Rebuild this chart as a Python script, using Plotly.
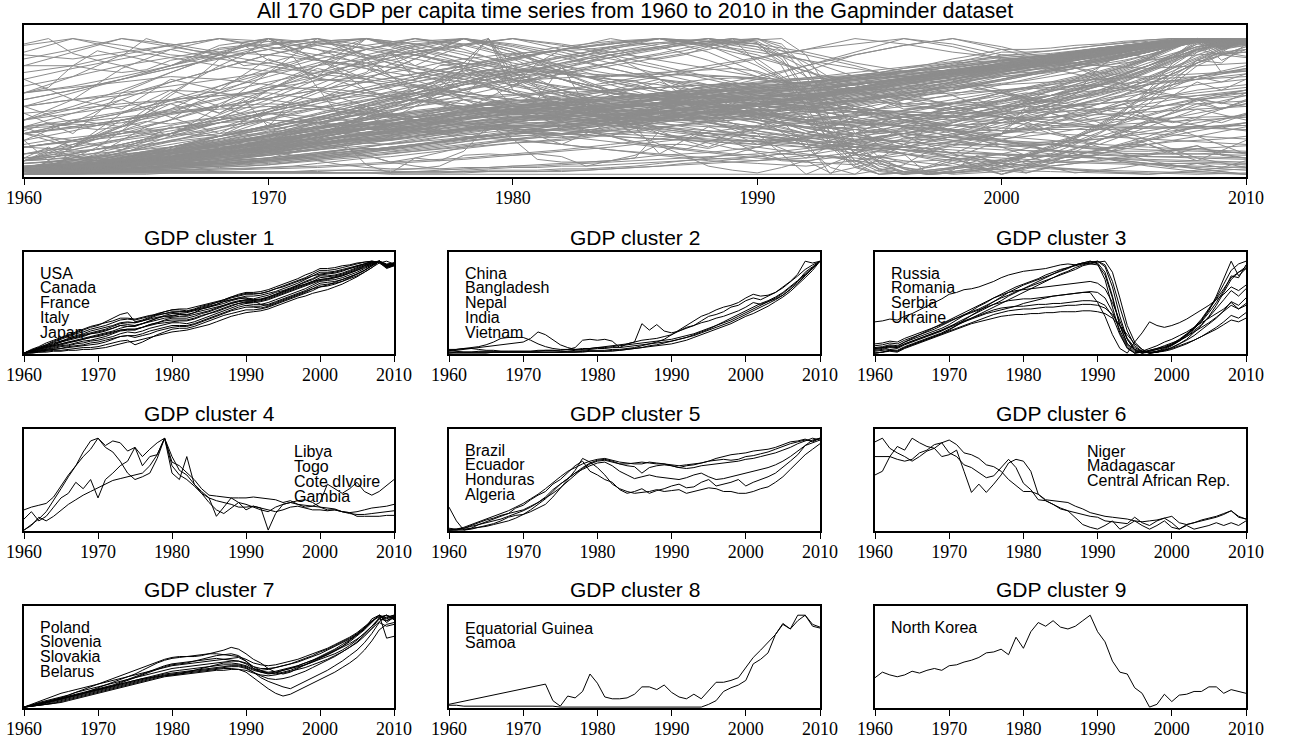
import plotly.graph_objects as go

W, H = 1290, 742

years = list(range(1960, 2011))
years_biennial = list(range(1960, 2011, 2))
tick_years = [1960, 1970, 1980, 1990, 2000, 2010]

# Normalised GDP per capita (percent of each series' range), one value per year 1960-2010
cluster1 = [
    [0,2,4,7,9,12,15,17,19,21, 22,24,27,30,29,29,32,35,38,40, 40,42,41,44,48,50,52,54,57,59, 60,59,61,63,66,68,71,74,77,80, 84,84,85,87,90,93,96,98,100,95, 97],
    [0,3,6,9,12,15,18,21,23,26, 28,30,33,36,37,36,38,40,43,45, 47,47,46,48,51,53,55,57,60,62, 64,64,65,67,70,73,76,79,82,86, 90,90,91,93,95,97,99,100,99,94, 96],
    [0,4,7,11,14,17,20,23,26,29, 31,33,35,38,38,37,39,41,42,43, 44,45,45,47,49,51,53,56,58,60, 62,62,63,65,67,70,73,76,80,84, 88,88,89,91,93,95,97,99,100,94, 97],
    [0,3,6,9,13,16,19,22,25,28, 30,34,38,42,44,34,36,39,42,45, 47,48,48,50,52,54,56,58,61,64, 66,66,67,69,72,75,78,81,85,88, 92,92,93,95,96,98,99,100,98,93, 95],
    [0,1,3,5,7,9,11,13,15,17, 18,20,22,25,26,26,28,31,33,35, 36,36,36,38,41,43,45,48,51,54, 56,56,57,59,62,65,68,71,74,77, 80,81,82,84,87,90,94,97,100,96, 98],
    [0,1,2,4,5,7,8,10,11,13, 14,16,18,21,23,22,24,27,29,31, 33,33,32,34,37,40,43,46,49,52, 54,53,53,55,58,61,64,67,70,74, 78,79,80,82,85,88,92,96,100,95, 97],
    [0,1,2,3,4,5,6,7,8,9, 10,12,15,18,19,19,21,24,26,28, 30,30,30,32,35,38,41,44,47,50, 52,51,51,53,56,59,62,65,68,72, 76,77,78,80,83,86,90,95,100,95, 97],
    [0,0,1,2,3,3,4,5,6,6, 7,9,11,13,14,9,12,16,20,23, 26,27,27,29,32,35,38,41,43,45, 47,47,48,50,53,56,59,62,65,68, 72,73,75,78,82,86,90,95,100,96, 98],
    [0,0,1,1,2,2,3,3,4,4, 5,6,8,10,12,13,15,17,19,21, 23,24,25,27,29,31,34,37,40,42, 44,45,46,48,51,54,57,60,62,65, 67,69,72,75,79,83,88,93,100,97, 98],
    [0,2,4,6,8,10,12,14,16,18, 20,22,24,27,29,30,32,35,38,41, 43,43,44,46,48,50,53,56,58,60, 60,57,53,52,55,58,61,64,67,70, 72,74,77,80,83,86,90,95,100,96, 97],
    [0,3,5,8,10,13,15,18,20,22, 24,26,29,32,33,33,35,38,41,43, 45,45,45,47,50,52,55,58,61,63, 65,65,65,67,70,72,75,78,81,84, 86,87,88,90,92,94,97,100,99,92, 95],
    [0,1,3,4,6,8,9,11,13,14, 16,18,21,24,25,25,28,31,33,36, 38,38,38,40,43,45,48,51,54,56, 58,58,58,60,63,66,69,72,75,78, 82,83,84,86,89,92,95,98,100,94, 96],
    [0,1,2,3,4,5,7,8,9,11, 12,14,16,18,19,17,19,21,24,26, 28,29,29,31,34,37,40,43,46,48, 50,50,49,51,54,57,60,63,66,70, 74,75,76,78,81,84,88,93,98,100, 97],
    [0,3,5,8,11,13,16,19,21,24, 26,28,30,33,34,33,35,37,39,40, 41,42,42,44,46,48,50,52,55,57, 58,58,59,61,64,67,70,73,75,78, 80,81,83,85,88,91,95,98,100,95, 96],
    [0,2,4,6,8,10,12,13,15,17, 19,21,23,25,26,26,28,30,32,33, 34,35,35,37,40,43,46,49,52,54, 55,55,56,58,61,64,67,70,73,76, 79,80,82,84,87,90,93,97,100,96, 98],
    [0,2,5,7,9,12,14,16,18,21, 23,25,27,30,31,30,32,34,36,38, 39,40,40,42,44,46,49,52,54,56, 57,57,58,61,64,67,70,74,78,81, 85,86,87,89,92,95,97,99,100,93, 96],
]

cluster2 = [
    [3,2,1,1,1,1,1,1,1,1, 1,1,1,1,1,1,1,1,1,2, 2,2,3,3,4,5,6,7,8,9, 10,12,14,17,20,23,26,29,32,36, 40,43,47,51,56,61,67,74,82,90, 100],
    [4,4,5,5,4,3,3,2,2,2, 2,2,3,3,3,2,2,3,4,5, 6,7,8,9,10,12,32,25,31,24, 22,24,27,30,35,40,42,45,50,52, 57,60,58,62,66,72,78,86,100,98, 100],
    [2,3,4,5,6,7,8,9,10,11, 12,16,23,20,14,9,6,4,3,4, 5,5,6,6,7,8,9,10,11,12, 13,15,17,19,22,25,28,31,34,38, 42,46,50,54,58,63,69,76,84,92, 100],
    [3,4,5,6,7,9,12,16,17,17, 17,14,10,7,5,4,4,4,5,5, 6,6,7,8,9,10,11,12,13,14, 15,17,19,21,24,27,30,34,38,42, 46,50,54,57,61,66,72,79,86,93, 100],
    [0,1,1,1,2,2,2,2,2,2, 2,2,2,3,3,3,4,6,14,15, 14,15,13,6,10,12,14,15,16,18, 20,24,28,30,33,35,38,40,43,46, 50,55,53,56,59,63,69,78,88,94, 100],
    [1,1,1,1,1,1,1,1,1,1, 1,1,1,1,1,1,2,2,2,3, 3,3,4,4,5,6,8,10,12,15, 20,25,30,35,40,43,47,50,52,55, 60,64,62,63,66,71,77,84,91,96, 100],
    [0,0,0,0,0,0,1,1,1,1, 1,1,1,1,1,1,1,1,2,2, 2,2,2,3,4,5,6,8,9,11, 13,15,17,20,23,26,30,33,36,40, 44,48,52,56,60,65,71,78,85,92, 100],
]

cluster3 = [
    [5,6,8,7,12,15,18,21,24,27, 31,36,41,46,51,55,60,64,68,72, 75,78,81,85,88,91,93,95,97,99, 100,94,72,40,15,3,0,1,2,4, 8,13,19,26,35,46,62,82,100,84, 92],
    [0,1,3,2,6,9,12,15,18,21, 25,30,36,41,46,51,56,61,66,70, 74,77,80,83,86,89,92,96,98,100, 97,80,50,22,6,0,1,3,5,7, 10,15,21,28,37,48,60,75,90,97, 100],
    [34,35,37,36,40,43,47,51,55,59, 64,66,69,70,72,75,78,82,85,87, 89,90,91,92,94,96,97,96,98,97, 96,85,60,30,10,4,2,0,1,3, 6,10,15,22,30,40,52,66,80,88, 94],
    [3,4,6,5,9,12,15,18,21,24, 28,33,37,41,45,49,53,57,62,66, 70,73,76,79,82,85,88,91,95,97, 99,100,88,60,30,12,4,0,2,5, 9,14,20,27,36,47,58,70,82,88, 92],
    [8,9,11,10,14,17,20,23,26,30, 34,38,42,45,48,52,56,60,63,67, 70,74,78,82,86,90,93,96,98,100, 98,88,62,30,10,2,0,2,4,6, 9,14,20,27,34,44,55,68,84,82, 96],
    [2,3,4,3,7,10,13,16,19,22, 26,30,34,38,42,46,50,54,58,62, 66,70,74,78,82,86,89,93,96,98, 100,96,78,50,24,8,2,0,1,3, 6,10,14,19,25,31,38,46,56,52, 60],
    [10,11,13,12,16,19,22,25,28,31, 35,38,41,44,47,50,53,55,57,58, 59,59,60,61,62,63,64,65,66,67, 66,60,45,25,8,0,2,5,8,12, 15,19,23,28,33,38,43,48,55,48, 52],
    [5,6,7,6,10,13,16,19,22,25, 29,32,35,38,41,44,47,49,50,51, 51,52,53,53,54,54,55,56,57,57, 56,52,40,20,5,0,1,3,5,8, 11,14,18,23,28,33,39,45,52,48, 54],
    [0,1,2,1,5,8,11,14,17,20, 23,26,29,32,34,36,38,40,41,42, 42,43,43,44,44,45,45,45,46,46, 45,43,38,30,20,10,4,0,1,3, 5,8,11,14,18,22,26,31,36,34, 38],
    [0,1,3,2,6,9,12,15,18,21, 24,27,30,33,36,39,42,44,46,47, 48,48,49,50,50,51,52,52,53,53, 52,49,42,30,16,6,2,0,1,2, 4,7,10,14,18,23,28,34,41,38, 44],
    [4,5,7,6,10,13,16,19,22,25, 28,31,34,37,40,43,45,47,49,51, 54,56,58,60,62,63,64,65,66,66, 55,40,20,5,0,12,22,34,30,28, 30,33,37,42,47,52,58,64,72,68, 74],
    [6,7,9,8,12,16,20,24,28,32, 36,40,44,48,52,56,60,63,66,68, 69,70,71,72,73,74,75,76,77,78, 76,70,55,35,15,4,0,2,4,6, 9,13,18,24,31,39,48,58,68,62, 70],
]

cluster4 = [
    [22,25,27,29,36,48,60,70,80,88, 100,92,97,95,86,90,80,88,95,100, 74,70,62,55,45,38,37,36,35,35, 35,36,35,34,33,30,32,28,25,26, 30,50,45,40,45,52,42,38,42,48, 55],
    [0,6,12,20,32,45,58,70,85,97, 100,90,85,75,62,55,58,62,78,100, 80,65,60,50,42,35,32,30,28,25, 25,26,24,22,20,22,25,26,24,22, 22,21,22,20,19,20,22,24,25,26, 28],
    [0,5,14,10,15,22,28,33,38,42, 46,50,54,56,58,60,62,70,82,100, 70,60,55,48,40,30,22,18,24,30, 28,25,22,20,25,28,30,28,27,26, 25,24,23,20,18,17,17,18,19,20, 21],
    [12,20,10,15,25,35,40,52,45,55, 35,55,62,70,75,90,70,80,82,100, 62,55,80,50,40,35,15,25,35,30, 22,26,24,0,18,28,30,32,33,30, 25,22,22,20,19,15,15,15,15,16, 16],
]

cluster5 = [
    [25,10,0,2,6,9,12,15,18,24, 27,33,38,42,50,55,62,70,75,64, 60,55,52,44,40,42,45,40,43,45, 48,50,46,47,52,55,48,50,52,55, 48,52,55,58,62,68,75,82,92,95, 98],
    [0,1,3,6,9,12,15,18,21,25, 29,34,39,45,52,58,64,68,72,75, 77,78,76,74,73,72,72,74,73,72, 71,70,71,72,73,75,76,77,76,77, 80,81,83,85,88,91,94,96,98,97, 100],
    [0,0,2,5,8,11,13,16,18,20, 22,26,30,36,44,50,56,62,68,73, 76,77,75,72,70,69,62,68,70,71, 70,68,70,71,73,75,78,80,82,83, 84,86,87,88,90,93,96,97,99,96, 100],
    [0,0,0,1,3,5,7,10,14,16, 17,20,24,28,36,45,55,65,78,74, 68,60,50,45,42,40,41,42,44,42, 43,44,40,42,44,46,45,42,42,40, 40,42,45,47,52,58,66,74,82,88, 94],
    [2,1,1,2,3,4,6,8,10,13, 17,22,28,34,42,50,56,62,66,70, 73,74,70,64,60,56,58,60,58,57, 56,55,57,60,62,58,55,56,58,60, 62,64,66,68,71,75,80,86,92,98, 100],
    [0,1,2,4,6,8,10,12,15,18, 21,25,30,35,40,46,53,60,67,72, 75,76,74,72,72,73,74,73,72,72, 70,68,67,68,70,71,72,73,74,75, 77,78,80,82,84,87,90,94,97,100, 98],
]

cluster6 = [
    [96,100,89,84,80,75,80,86,89,95, 98,93,84,82,78,71,69,64,55,48, 42,42,39,33,32,31,30,26,23,19, 17,15,14,13,12,10,9,10,11,13, 15,8,6,8,11,13,15,18,21,14, 12],
    [60,64,80,91,87,100,95,91,89,80, 82,87,64,41,50,41,50,60,73,77, 75,64,39,32,28,24,21,14,6,3, 1,5,10,1,5,10,5,1,5,10, 3,1,5,1,3,5,8,5,8,5, 10],
    [80,80,80,77,75,77,84,87,93,95, 84,80,71,68,62,57,59,68,77,68, 51,44,33,32,28,23,21,19,17,15, 14,10,9,8,7,14,8,5,10,13, 8,1,6,8,10,12,14,17,21,15, 12],
]

cluster7 = [
    [0,2,5,7,9,11,13,16,18,20, 22,24,26,28,30,32,34,36,38,40, 42,43,44,45,46,47,48,49,50,50, 47,42,40,41,43,45,47,50,53,56, 60,63,67,71,75,80,86,93,100,94, 97],
    [0,1,3,5,7,9,11,13,15,18, 21,24,27,30,33,36,40,44,48,51, 53,54,55,55,56,58,60,62,65,63, 58,52,48,42,38,36,38,42,46,50, 54,58,62,66,71,77,84,92,100,96, 99],
    [0,1,2,4,6,8,10,12,14,16, 18,20,22,24,26,28,30,32,34,36, 37,38,39,40,41,42,43,44,45,45, 43,38,32,28,25,22,20,24,28,32, 36,40,45,50,56,62,70,80,92,88, 90],
    [0,1,2,3,4,6,8,10,12,14, 16,18,20,22,24,26,28,30,32,34, 35,36,37,38,39,40,41,42,42,41, 38,32,26,20,15,12,14,18,22,26, 30,34,38,43,48,54,62,72,84,90, 92],
    [0,2,4,6,8,10,12,14,16,18, 20,22,24,27,30,33,36,39,42,45, 47,48,49,50,51,52,53,52,51,50, 48,44,42,42,43,45,47,49,52,55, 58,62,66,70,74,79,85,96,100,75, 77],
    [0,2,3,5,7,9,11,13,15,17, 19,21,23,25,27,29,31,33,35,37, 39,40,41,42,43,44,45,46,46,46, 44,40,38,37,38,40,42,44,46,49, 52,55,58,62,67,73,80,88,96,100, 97],
    [0,3,6,9,12,15,17,19,21,23, 25,27,29,31,33,35,37,39,41,43, 45,46,47,48,49,50,51,52,53,54, 50,42,38,36,37,40,42,45,48,51, 55,59,63,68,73,79,86,94,100,92, 98],
    [0,1,2,3,5,7,9,11,13,15, 17,19,21,23,25,27,29,31,33,35, 36,37,38,39,40,41,42,43,44,44, 42,38,34,31,30,31,33,36,39,43, 47,51,55,60,65,71,78,86,96,94, 99],
    [0,2,4,6,8,10,13,16,19,22, 25,28,31,34,37,40,43,46,49,52, 54,55,55,56,57,58,58,57,56,55, 52,48,46,45,46,48,50,52,55,58, 61,64,68,72,76,81,87,94,98,100, 95],
    [0,1,3,5,7,9,11,13,15,17, 19,21,23,25,27,29,31,32,33,34, 35,36,38,40,42,44,46,48,48,47, 45,41,39,38,39,41,43,45,48,51, 54,57,61,65,69,74,80,88,97,100, 96],
    [0,2,4,5,7,9,11,13,15,17, 19,21,23,26,29,32,35,38,41,44, 46,47,48,50,52,54,56,57,58,56, 50,44,40,37,36,38,40,43,46,49, 53,57,61,66,72,78,85,93,100,97, 100],
    [0,1,2,3,4,5,7,9,11,13, 15,17,19,21,23,25,27,29,31,33, 34,35,36,37,38,39,40,40,41,41, 40,37,35,34,35,37,39,41,43,46, 49,52,56,60,65,70,77,85,93,98, 100],
]

# None marks years without data; the line is joined across them
cluster8 = [
    [3, None, None, None, None, None, None, None, None, None, None, None, None,
     25,7,1,12,10,17,36, 26,11,9,9,10,14,22,22,19,24, 16,11,9,14,9,18,27,27,29,32, 43,54,62,70,79,91,85,100,100,90, 87],
    [2,2,1,1,1,1,1,1,1,1, 1,1,1,1,1,0,0,0,0,0, 0,0,0,0,0,0,0,0,0,0, 0,0,0,0,0,3,7,17,21,24, 29,47,52,59,79,90,85,94,100,88, 86],
]

cluster9 = [
    [32,38,35,33,35,39,37,40,42,40, 45,46,49,51,54,59,60,63,57,76, 64,82,92,88,94,87,85,88,94,100, 82,71,50,38,36,21,15,0,3,14, 6,13,14,17,17,22,22,15,19,17, 15],
]

# Remaining countries outside the nine clusters, sampled every second year 1960-2010
other_series = [
    [0,3,7,11,15,20,25,30,33,37,40,42,45,49,53,58,61,64,68,73,78,82,86,91,97,100],
    [0,2,4,7,10,14,19,25,30,34,36,35,37,41,46,52,56,61,67,73,78,83,88,94,100,98],
    [2,4,6,9,13,18,24,31,38,44,48,46,43,44,47,51,56,60,65,69,74,79,85,92,99,100],
    [0,1,3,5,7,9,12,15,18,22,26,30,35,40,46,52,58,64,70,76,82,87,92,96,100,97],
    [5,8,12,17,23,29,35,41,46,50,52,50,47,46,48,52,57,63,69,75,80,85,90,95,100,99],
    [0,4,9,14,19,25,31,37,42,46,50,53,56,60,64,68,70,72,75,79,83,88,93,97,100,96],
    [0,1,2,4,6,9,12,16,21,26,31,34,38,42,45,47,50,55,60,64,70,77,84,91,98,100],
    [8,10,13,16,20,24,29,34,40,45,49,51,52,55,58,62,64,68,72,76,81,86,91,96,100,98],
    [0,2,5,9,14,20,27,34,40,44,46,44,42,40,39,41,45,50,56,62,69,76,84,92,100,97],
    [0,1,2,3,5,7,10,13,17,21,25,29,33,38,43,48,53,59,64,70,75,81,87,93,98,100],
    [3,5,8,12,16,21,26,31,36,41,45,48,50,52,54,57,61,66,70,74,78,83,88,93,100,99],
    [0,3,6,10,15,22,30,36,42,47,50,51,51,52,54,56,59,63,67,71,76,81,87,94,100,98],
    [1,2,4,6,9,12,15,18,22,26,30,33,37,41,45,50,54,58,63,68,73,79,85,92,98,100],
    [0,2,4,7,10,14,18,23,28,34,40,42,44,46,49,53,57,62,67,72,77,82,88,94,100,97],
    [10,12,15,18,22,26,30,35,40,44,48,52,56,60,62,61,63,66,70,74,79,85,91,96,100,98],
    [0,0,1,2,3,4,5,7,9,11,14,17,20,24,28,33,39,45,52,59,66,74,82,90,98,100],
    [0,5,11,17,23,29,34,38,42,46,50,53,56,59,62,65,68,71,74,77,80,84,89,94,100,99],
    [4,6,9,13,18,24,31,38,44,48,50,49,47,47,49,52,55,59,64,70,76,82,89,95,100,97],
    [0,2,3,5,8,11,15,20,26,32,38,43,48,53,58,62,65,67,69,72,76,81,87,93,99,100],
    [2,3,5,8,12,17,22,28,34,40,46,50,53,55,57,59,62,66,71,76,82,87,92,96,100,95],
    [0,3,6,9,12,15,18,21,24,27,30,33,36,39,42,46,50,54,59,64,70,77,84,92,100,98],
    [6,9,12,15,19,23,28,33,37,41,44,46,48,51,55,59,63,67,71,75,79,84,89,94,100,100],
    [0,1,3,6,10,15,21,28,35,42,48,52,55,57,59,61,63,66,70,75,80,86,92,97,100,96],
    [0,2,4,6,8,10,13,16,20,24,29,34,40,45,49,51,52,54,58,63,69,76,83,91,99,100],
    [3,6,9,13,17,22,27,33,39,46,52,57,61,64,66,67,68,70,73,77,82,87,92,96,100,99],
    [0,1,2,3,4,5,6,8,10,12,15,18,22,26,31,36,42,48,55,62,70,78,86,93,100,99],
    [15,17,20,24,28,33,38,42,46,50,54,56,57,58,60,63,67,71,75,79,83,88,93,97,100,97],
    [0,3,7,11,16,21,27,33,40,46,50,47,42,40,41,44,49,55,61,68,75,82,89,95,100,98],
    [0,2,4,6,9,12,16,20,25,30,35,40,44,48,52,56,60,64,69,74,79,84,89,95,100,99],
    [5,7,9,11,14,17,20,24,28,33,38,43,48,52,56,60,63,66,70,74,78,83,89,95,100,98],
    [90,100,95,88,85,80,74,70,65,58,50,42,38,35,30,28,25,22,20,18,15,13,12,10,9,8],
    [70,78,85,92,100,94,88,82,75,70,62,55,48,42,38,30,24,20,18,16,14,13,12,11,10,9],
    [85,92,100,96,90,88,84,80,78,74,70,65,60,55,52,48,44,40,35,32,28,25,22,20,18,17],
    [60,65,72,80,88,95,100,92,85,78,70,62,55,50,46,40,34,28,24,20,18,17,16,15,15,14],
    [95,100,92,86,80,76,70,68,64,60,55,50,46,42,38,34,30,24,18,12,8,5,3,2,1,0],
    [40,50,62,75,88,100,95,88,80,72,66,60,52,45,40,35,28,20,15,10,6,4,2,1,0,1],
    [75,80,88,95,100,98,92,86,78,70,60,50,42,35,30,26,22,20,18,16,15,14,14,13,13,12],
    [55,62,70,78,86,92,98,100,94,85,75,62,52,45,42,40,37,33,30,27,24,22,20,18,17,16],
    [88,85,90,95,100,92,84,78,72,68,60,52,45,40,36,32,27,22,18,14,12,10,9,8,8,7],
    [65,72,80,86,92,96,100,95,88,80,70,58,45,38,32,28,22,15,10,6,3,2,1,0,2,4],
    [80,90,100,94,88,82,76,72,66,60,55,48,40,34,28,24,20,18,15,12,10,9,8,7,6,5],
    [50,60,70,80,90,100,97,93,88,82,78,74,70,66,60,54,48,42,35,28,22,18,15,13,12,11],
    [10,20,32,45,60,75,88,100,92,85,78,70,62,56,52,50,48,46,44,43,42,42,44,46,48,50],
    [20,25,32,40,50,62,75,88,96,100,90,75,62,55,50,46,42,38,35,33,32,34,36,38,40,42],
    [5,12,20,30,42,55,70,85,95,100,85,70,58,48,40,35,30,26,24,22,22,24,26,30,34,38],
    [30,38,45,55,65,75,85,92,98,100,95,88,78,70,62,55,50,48,46,45,45,46,48,50,52,54],
    [0,8,18,30,44,58,72,84,94,100,96,90,82,74,66,60,56,54,52,52,54,58,62,66,70,74],
    [15,22,30,40,52,66,80,92,100,95,86,76,68,62,58,56,55,56,58,60,62,64,66,68,70,72],
    [40,48,58,68,78,88,96,100,92,82,72,64,60,58,56,54,50,46,42,40,38,36,35,34,34,33],
    [0,5,10,18,28,40,55,70,85,100,92,80,70,62,56,52,50,48,46,45,46,48,52,56,60,64],
    [25,32,40,48,56,64,72,80,88,95,100,96,90,84,78,72,66,60,56,52,50,50,52,55,58,60],
    [10,15,22,30,40,52,66,80,92,100,94,86,78,70,64,58,52,46,40,36,34,33,33,34,35,36],
    [35,40,46,54,62,72,82,92,100,96,88,80,74,70,66,64,62,62,63,64,66,68,70,72,74,76],
    [5,10,16,24,34,46,60,74,88,100,90,78,66,56,48,44,40,38,36,36,38,42,46,52,58,62],
    [0,5,12,20,28,36,45,54,62,70,78,86,94,100,95,80,60,45,38,36,38,42,48,55,62,66],
    [10,15,22,30,38,46,54,62,70,78,85,92,97,100,98,92,84,72,60,50,42,38,36,35,35,36],
    [0,4,10,18,26,34,42,50,58,66,74,82,88,94,100,96,78,55,40,32,30,34,40,48,56,62],
    [20,24,28,34,40,48,56,64,72,80,88,94,98,100,90,75,60,50,44,42,44,48,54,60,66,70],
    [5,8,12,18,24,32,40,48,56,62,68,74,80,86,92,100,82,60,50,48,50,54,60,66,72,78],
    [30,34,38,44,50,56,62,68,74,80,86,92,96,100,96,88,76,62,52,46,42,40,40,41,42,43],
    [0,3,7,12,18,25,33,42,52,62,72,82,90,96,100,94,72,48,34,28,26,30,36,44,54,62],
    [12,16,21,27,34,41,49,57,65,73,80,87,93,97,100,85,60,40,28,22,20,22,26,32,38,44],
    [40,55,48,70,62,85,72,100,88,80,60,45,38,50,58,42,20,30,45,52,60,48,55,62,70,78],
    [30,20,45,62,50,75,100,85,60,48,65,78,88,70,45,30,0,15,35,42,50,58,65,60,72,80],
    [60,72,88,80,95,100,85,70,55,48,40,55,62,70,58,45,38,30,22,12,0,10,18,25,32,38],
    [0,20,35,52,40,62,78,70,85,100,92,75,60,52,45,38,30,42,55,68,60,52,45,40,50,58],
    [70,55,78,92,85,95,100,88,75,62,50,45,58,68,55,40,30,22,15,8,0,12,25,38,45,52],
    [10,22,35,55,45,62,80,100,90,78,65,58,50,42,38,32,25,18,0,12,25,35,42,48,55,60],
    [25,40,35,48,65,78,88,95,100,92,80,70,62,55,48,42,35,28,20,12,0,8,15,25,35,45],
    [45,30,60,75,88,100,92,80,65,55,48,42,38,30,25,20,15,10,5,0,2,8,15,22,28,35],
    [35,45,55,68,78,88,95,100,96,90,82,75,68,60,52,45,38,30,22,15,8,5,2,0,3,6],
    [55,62,70,78,85,92,98,100,96,88,78,70,62,55,50,45,40,35,30,25,20,15,12,8,4,0],
    [40,45,50,55,58,60,55,48,42,38,35,32,30,28,26,24,22,25,30,38,48,58,68,80,92,100],
    [30,35,40,45,48,50,48,44,40,36,32,28,24,20,16,12,10,14,20,28,38,50,62,76,90,100],
    [50,55,58,62,60,55,50,45,40,36,32,30,28,26,24,22,20,18,20,24,30,40,52,66,82,100],
    [20,25,30,34,38,40,38,35,32,28,25,22,18,15,12,10,12,16,22,30,40,52,66,80,94,100],
    [60,64,68,72,70,66,62,58,54,50,46,42,38,35,32,30,28,30,34,40,48,58,70,82,94,100],
    [10,18,26,34,40,45,42,38,34,30,26,22,18,14,10,8,6,10,16,24,34,46,60,76,92,100],
    [35,38,42,46,50,52,50,46,42,38,34,30,28,26,25,24,26,30,36,44,54,64,74,84,94,100],
    [45,48,52,55,58,62,64,60,55,50,45,40,36,33,30,28,26,28,32,38,46,56,68,80,92,100],
    [20,25,30,36,42,48,55,62,68,74,80,86,90,94,100,96,90,82,76,70,62,50,38,25,12,5],
    [10,15,22,30,38,46,54,62,70,78,85,92,96,100,98,94,88,80,70,58,45,32,20,10,4,0],
    [30,35,40,45,50,56,62,68,74,80,86,92,96,100,96,90,84,78,72,66,60,54,48,42,36,32],
    [0,5,12,20,28,36,44,52,60,68,76,84,92,100,94,86,76,66,56,48,42,38,34,30,28,26],
    [15,20,26,32,38,44,52,60,68,76,84,92,100,94,84,72,60,50,42,36,32,30,28,26,24,22],
    [0,2,4,6,8,11,14,18,22,27,32,36,40,43,46,50,55,60,66,72,78,84,90,95,100,99],
    [0,1,2,4,6,8,11,14,17,20,23,26,30,34,39,45,51,57,63,70,77,84,91,96,100,98],
    [2,5,9,13,17,21,25,29,33,37,41,45,49,53,57,61,65,69,73,77,81,85,90,95,100,97],
    [0,3,6,10,14,18,23,28,33,38,42,43,44,46,49,52,56,61,66,72,78,85,92,97,100,96],
    [6,8,10,13,16,20,25,30,35,40,45,50,55,59,63,67,71,75,79,83,87,91,95,98,100,97],
    [0,1,3,5,8,11,14,18,22,26,30,34,38,42,46,51,56,62,68,74,80,86,91,96,100,100],
    [12,14,17,20,24,28,32,36,40,45,50,52,54,57,60,63,66,69,73,77,81,86,91,96,100,98],
    [0,2,5,8,12,16,21,26,31,36,40,44,47,50,53,56,59,62,66,70,75,81,87,93,98,100],
    [0,1,3,5,7,10,13,17,21,25,28,30,32,35,38,42,47,53,59,66,73,80,87,94,100,98],
    [4,7,11,15,19,24,29,34,39,44,48,51,54,57,60,64,68,72,76,80,84,88,92,96,100,97],
    [0,2,3,5,7,10,13,17,21,26,31,36,41,46,51,56,61,66,71,76,81,86,91,96,100,99],
    [8,11,14,18,22,27,32,37,42,47,51,54,56,58,61,64,68,72,76,80,84,88,93,97,100,98],
    [0,8,16,25,32,40,48,55,60,58,52,48,50,55,62,70,80,90,100,96,88,84,80,78,80,82],
    [5,10,18,25,30,35,42,50,55,52,45,40,42,48,56,66,76,88,95,100,94,85,72,60,55,58],
    [20,18,25,30,28,35,40,45,50,55,58,62,66,72,78,85,92,100,96,90,86,82,80,84,88,90],
    [30,25,32,28,35,40,38,45,42,50,55,52,60,58,65,72,80,88,95,100,92,82,75,70,72,76],
    [0,5,10,16,22,28,34,40,45,50,56,62,68,74,80,86,92,96,100,94,85,78,70,62,55,50],
    [10,25,18,35,28,45,38,30,42,55,48,36,28,40,52,44,32,25,38,50,42,30,22,35,48,40],
    [50,38,55,42,30,48,62,50,38,25,40,55,45,30,20,35,50,40,28,15,30,45,35,22,10,25],
    [35,20,40,28,50,38,25,45,60,48,35,22,38,52,40,26,12,30,45,32,20,8,25,40,28,15],
    [30,38,45,52,60,68,75,82,90,96,100,92,85,78,70,62,55,48,40,32,25,18,12,8,5,3],
    [50,55,60,65,70,75,80,85,90,95,100,95,88,80,72,64,56,48,40,32,24,18,12,6,2,0],
]

clusters = [cluster1, cluster2, cluster3, cluster4, cluster5,
            cluster6, cluster7, cluster8, cluster9]
cluster_titles = ["GDP cluster %d" % (i + 1) for i in range(9)]
cluster_countries = [
    ["USA", "Canada", "France", "Italy", "Japan"],
    ["China", "Bangladesh", "Nepal", "India", "Vietnam"],
    ["Russia", "Romania", "Serbia", "Ukraine"],
    ["Libya", "Togo", "Cote dIvoire", "Gambia"],
    ["Brazil", "Ecuador", "Honduras", "Algeria"],
    ["Niger", "Madagascar", "Central African Rep."],
    ["Poland", "Slovenia", "Slovakia", "Belarus"],
    ["Equatorial Guinea", "Samoa"],
    ["North Korea"],
]
main_title = "All 170 GDP per capita time series from 1960 to 2010 in the Gapminder dataset"


def fx(px):
    return px / W


def fy(px):
    return 1 - px / H


SANS = "Liberation Sans, Arial, Helvetica, sans-serif"
SERIF = "Liberation Serif, Times New Roman, serif"

frame = dict(showline=True, mirror=True, linecolor="black", linewidth=1.8,
             showgrid=False, zeroline=False, fixedrange=True, automargin=False)
xstyle = dict(frame, range=[1960, 2010], tickmode="array", tickvals=tick_years,
              ticks="outside", ticklen=6, tickwidth=1, tickcolor="black",
              ticklabelstandoff=-3,
              tickfont=dict(family=SERIF, size=18, color="black"))
ystyle = dict(frame, showticklabels=False, ticks="")

# Panel boxes in pixels: (left, right, top, bottom)
top_box = (24, 1246, 25, 177)
col_px = [(24, 394), (449, 820), (875, 1246)]
row_px = [(252, 354), (429, 531), (606, 708)]
title_row_px = [238, 414, 589]
label_pos = [(39, 273), (464, 273), (890, 273),
             (293, 452), (464, 450), (1086, 451),
             (39, 627), (464, 628), (890, 627)]
label_step = 14.8

fig = go.Figure()
layout = dict(
    width=W, height=H, margin=dict(l=0, r=0, t=0, b=0, pad=0, autoexpand=False),
    paper_bgcolor="white", plot_bgcolor="white",
    showlegend=False, hovermode=False,
)

layout["xaxis"] = dict(xstyle, domain=[fx(top_box[0]), fx(top_box[1])], anchor="y")
layout["yaxis"] = dict(ystyle, domain=[fy(top_box[3]), fy(top_box[2])], anchor="x",
                       range=[-2, 110])

grey = "#8c8c8c"
for group in clusters:
    for series in group:
        fig.add_trace(go.Scatter(x=years, y=series, mode="lines", connectgaps=True,
                                 line=dict(color=grey, width=1),
                                 xaxis="x", yaxis="y"))
for series in other_series:
    fig.add_trace(go.Scatter(x=years_biennial, y=series, mode="lines",
                             line=dict(color=grey, width=1),
                             xaxis="x", yaxis="y"))

annotations = [dict(text=main_title, x=fx(635), y=fy(11), xref="paper", yref="paper",
                    xanchor="center", yanchor="middle", showarrow=False, borderpad=0,
                    font=dict(family=SANS, size=21.5, color="black"))]

for k, group in enumerate(clusters):
    r, c = divmod(k, 3)
    n = k + 2
    xl, xr = col_px[c]
    yt, yb = row_px[r]
    layout["xaxis%d" % n] = dict(xstyle, domain=[fx(xl), fx(xr)], anchor="y%d" % n)
    layout["yaxis%d" % n] = dict(ystyle, domain=[fy(yb), fy(yt)], anchor="x%d" % n,
                                 range=[-1, 110])
    for series in group:
        fig.add_trace(go.Scatter(x=years, y=series, mode="lines", connectgaps=True,
                                 line=dict(color="black", width=1),
                                 xaxis="x%d" % n, yaxis="y%d" % n))
    annotations.append(dict(text=cluster_titles[k], x=fx((xl + xr) / 2),
                            y=fy(title_row_px[r]), xref="paper", yref="paper",
                            xanchor="center", yanchor="middle", showarrow=False,
                            font=dict(family=SANS, size=21, color="black")))
    lx, ly = label_pos[k]
    for j, name in enumerate(cluster_countries[k]):
        annotations.append(dict(text=name, x=fx(lx), y=fy(ly + j * label_step),
                                xref="paper", yref="paper", xanchor="left",
                                yanchor="middle", showarrow=False, borderpad=0,
                                font=dict(family=SANS, size=16, color="black")))

layout["annotations"] = annotations
fig.update_layout(**layout)
fig.write_html("out.html")
